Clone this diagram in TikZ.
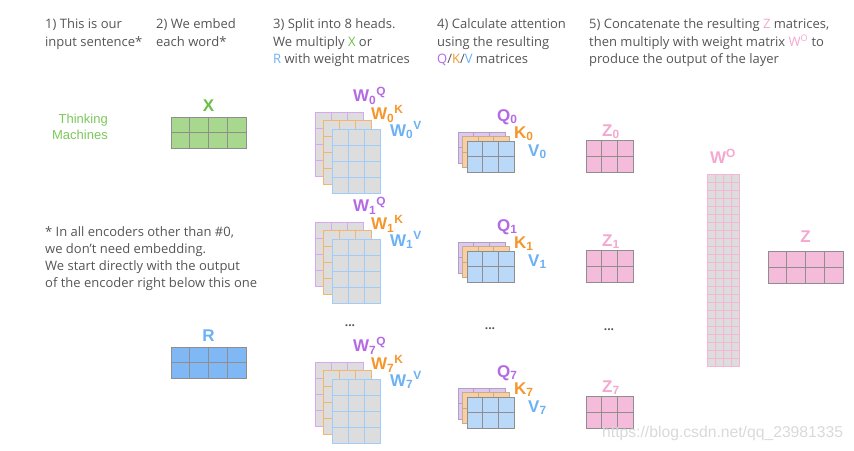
\documentclass[tikz,border=0pt]{standalone}
\usepackage{fontspec}
\setmainfont{Open Sans}
\newfontfamily\lblfont{Liberation Sans}
\usetikzlibrary{calc,positioning}

\definecolor{hdrgray}{HTML}{555555}
\definecolor{xgreen}{HTML}{6CBF47}
\definecolor{tmgreen}{HTML}{7CC85A}
\definecolor{xfill}{HTML}{A8D78E}
\definecolor{qpurple}{HTML}{B36AE2}
\definecolor{qline}{HTML}{D5A8F0}
\definecolor{qfill}{HTML}{DCC8F0}
\definecolor{korange}{HTML}{F5962B}
\definecolor{kline}{HTML}{F6B56C}
\definecolor{kfill}{HTML}{F9CFA2}
\definecolor{vblue}{HTML}{6BB1F4}
\definecolor{vline}{HTML}{9FCCF8}
\definecolor{vfill}{HTML}{BAD9F8}
\definecolor{wgray}{HTML}{DDDDDD}
\definecolor{zpink}{HTML}{F4A8CF}
\definecolor{zfill}{HTML}{F4BCDA}
\definecolor{rfill}{HTML}{7FB8F5}
\definecolor{gridgray}{HTML}{8E8E8E}

\tikzset{
  mat/.style={
    draw,
    inner sep = 0pt,
    outer sep = 0pt,
    line width = 1pt
  },
  wmat/.style={mat, fill=wgray},
  qmat/.style={mat, fill=qfill, draw=qpurple!35!gray!70},
  kmat/.style={mat, fill=kfill, draw=korange!40!gray!70},
  vmat/.style={mat, fill=vfill, draw=gridgray},
  zmat/.style={mat, fill=zfill, draw=gridgray},
  lbl/.style={
    font=\lblfont\bfseries\fontsize{17}{17}\selectfont,
    inner sep = 0pt,
    anchor = base west
  },
  hdr/.style={
    font=\fontsize{13}{17.5}\selectfont,
    text = hdrgray,
    align = left,
    inner sep = 0pt,
    anchor = north west
  },
  dots/.style={
    font=\bfseries\fontsize{12}{12}\selectfont,
    text = hdrgray
  }
}

% name, x, y (top left), columns, rows, cell width, cell height, style
\newcommand{\gridmat}[8]{%
  \node[#8, anchor=north west, minimum width=#4*#6pt, minimum height=#5*#7pt] (#1) at (#2,#3) {};
  \pgfmathtruncatemacro{\lastc}{#4-1}
  \pgfmathtruncatemacro{\lastr}{#5-1}
  \foreach \c in {1,...,\lastc}
    \draw[#8] ($(#1.north west)!\c/#4!(#1.north east)$) -- ($(#1.south west)!\c/#4!(#1.south east)$);
  \foreach \r in {1,...,\lastr}
    \draw[#8] ($(#1.north west)!\r/#5!(#1.south west)$) -- ($(#1.north east)!\r/#5!(#1.south east)$);
}

\begin{document}
\begin{tikzpicture}[x=1pt,y=-1pt]
  \useasboundingbox (0,0) rectangle (854,450);

  \node[hdr] (h1) at (45,18.5) {1) This is our\\input sentence*};
  \node[hdr] (h2) at (156,18.5) {2) We embed\\each word*};
  \node[hdr] (h3) at (273,18.5) {3) Split into 8 heads.\\We multiply \textcolor{xgreen}{X} or\\\textcolor{vblue}{R} with weight matrices};
  \node[hdr] (h4) at (437,18.5) {4) Calculate attention\\using the resulting\\\textcolor{qpurple}{Q}/\textcolor{korange}{K}/\textcolor{vblue}{V} matrices};
  \node[hdr] (h5) at (589,18.5) {5) Concatenate the resulting \textcolor{zpink}{Z} matrices,\\then multiply with weight matrix \textcolor{zpink}{W\textsuperscript{O}} to\\produce the output of the layer};
  \node[hdr, font=\fontsize{13}{17}\selectfont] (note) at (45,226) {* In all encoders other than \#0,\\we don’t need embedding.\\We start directly with the output\\of the encoder right below this one};

  \node[font=\lblfont\fontsize{13}{15.5}\selectfont, text=tmgreen, align=right, inner sep=0pt, anchor=north east] (words) at (108,114) {Thinking\\Machines};

  % embeddings
  \gridmat{xm}{171}{117}{4}{2}{18.75}{15.5}{mat,fill=xfill,draw=gridgray}
  \node[lbl, text=xgreen, above=5pt of xm] (lx) {X};
  \gridmat{rm}{171}{347}{4}{2}{18.75}{15.5}{mat,fill=rfill,draw=gridgray}
  \node[lbl, text=vblue, above=5pt of rm] (lr) {R};

  % the heads
  \foreach \h/\dw/\dq in {0/0/0,1/110/110,7/250/256}{
    \gridmat{wq\h}{315}{112+\dw}{3}{4}{16}{16}{wmat,draw=qline}
    \gridmat{wk\h}{323.5}{120.5+\dw}{3}{4}{16}{16}{wmat,draw=kline}
    \gridmat{wv\h}{332}{129+\dw}{3}{4}{16}{16}{wmat,draw=vline}
    \node[lbl, text=qpurple] (lwq\h) at (353,101.5+\dw) {W\textsubscript{\h}\textsuperscript{Q}};
    \node[lbl, text=korange] (lwk\h) at (371,119.5+\dw) {W\textsubscript{\h}\textsuperscript{K}};
    \node[lbl, text=vblue] (lwv\h) at (390,136+\dw) {W\textsubscript{\h}\textsuperscript{V}};

    \gridmat{q\h}{458}{132+\dq}{3}{2}{15.7}{15.5}{qmat}
    \gridmat{k\h}{462.5}{136.5+\dq}{3}{2}{15.7}{15.5}{kmat}
    \gridmat{v\h}{467}{141+\dq}{3}{2}{15.7}{15.5}{vmat}
    \node[lbl, text=qpurple] (lq\h) at (497,121+\dq) {Q\textsubscript{\h}};
    \node[lbl, text=korange] (lk\h) at (514,138+\dq) {K\textsubscript{\h}};
    \node[lbl, text=vblue] (lv\h) at (528,156+\dq) {V\textsubscript{\h}};

    \gridmat{z\h}{586}{140+\dq}{3}{2}{15.7}{16}{zmat}
    \node[lbl, text=zpink] (lz\h) at (602,136+\dq) {Z\textsubscript{\h}};
  }
  \node[dots] (dw) at (350,326) {...};
  \node[dots] (dq) at (490,329) {...};
  \node[dots] (dz) at (609,330) {...};

  % output
  \gridmat{wo}{707}{174}{4}{24}{8}{8}{mat,fill=wgray,draw=zpink!85,line width=0.8pt}
  \node[lbl, text=zpink, above=10pt of wo] (lwo) {W\textsuperscript{O}};
  \gridmat{zc}{768}{251}{4}{2}{18.75}{16}{zmat}
  \node[lbl, text=zpink, above=8pt of zc] (lzc) {Z};

  \node[font=\lblfont\fontsize{15.7}{15.7}\selectfont, text=black!15, anchor=west, inner sep=0pt] (wm) at (602,433) {https://blog.csdn.net/qq\_23981335};
\end{tikzpicture}
\end{document}
